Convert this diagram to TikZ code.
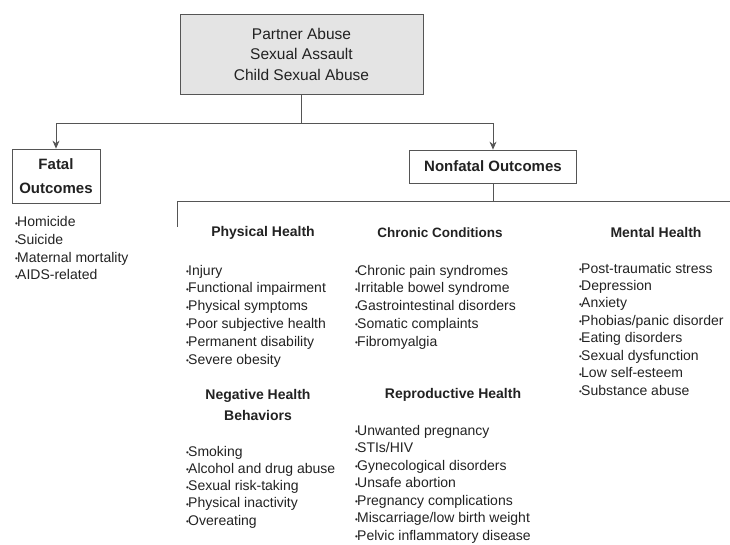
\documentclass[tikz,border=0pt]{standalone}
\usepackage{fontspec}
\setmainfont{Liberation Sans}
\usetikzlibrary{arrows.meta}

\definecolor{inkgray}{HTML}{222222}
\definecolor{linegray}{HTML}{555555}
\definecolor{boxfill}{HTML}{E4E4E4}

% little bullet that sits right against the first letter of a list entry
\newcommand\bul{\llap{\raisebox{0.5pt}{\fontsize{8}{8}\selectfont\textbullet}\kern-0.8pt}}

\tikzset{
  outbox/.style={draw=linegray,line width=0.8pt,fill=white,align=center,
    text=inkgray,font=\fontsize{15}{24}\selectfont\bfseries,inner sep=2pt},
  sourcebox/.style={outbox,fill=boxfill,font=\fontsize{15.5}{20.5}\selectfont},
  head/.style={align=center,text=inkgray,font=\fontsize{14}{21}\selectfont\bfseries},
  entry/.style={anchor=west,inner sep=0pt,text=inkgray,text height=9pt,text depth=3pt,
    font=\fontsize{14}{15}\selectfont,execute at begin node=\bul},
  link/.style={draw=linegray,line width=0.8pt}
}

\begin{document}
\begin{tikzpicture}[x=1pt,y=-1pt,>={Stealth[length=8pt,width=7pt]}]
\useasboundingbox (0,0) rectangle (730,545);

% forms of violence and the two kinds of outcome
\node[sourcebox,minimum width=243pt,minimum height=80pt] (abuse) at (301.5,54)
  {Partner Abuse\\Sexual Assault\\Child Sexual Abuse};
\node[outbox,minimum width=88pt,minimum height=54pt] (fatal) at (56,176) {Fatal\\Outcomes};
\node[outbox,minimum width=167pt,minimum height=33pt] (nonfatal) at (493,166.5) {Nonfatal Outcomes};

\coordinate (split) at (301.5,123);
\coordinate (branch) at (493,201);
\coordinate (rowL) at (177,201);
\coordinate (rowR) at (730,201);
\coordinate (drop) at (177,227);

\draw[link] (abuse) -- (split);
\draw[link,->] (split) -| (fatal);
\draw[link,->] (split) -| (nonfatal);
\draw[link] (nonfatal) -- (branch);
\draw[link] (rowR) -- (rowL) -- (drop);

% group headings
\node[head] (physH) at (263,233) {Physical Health};
\node[head,font=\fontsize{13.5}{21}\selectfont\bfseries] (chronH) at (440,233) {Chronic Conditions};
\node[head] (mentH) at (656,232) {Mental Health};
\node[head] (behavH) at (258,405) {Negative Health\\Behaviors};
\node[head] (reproH) at (453,395) {Reproductive Health};

% lists
\foreach \txt [count=\i] in {Homicide,Suicide,Maternal mortality,AIDS-related}
  \node[entry] (fat\i) at (17,{224+17.6*(\i-1)}) {\txt};
\foreach \txt [count=\i] in {Injury,Functional impairment,Physical symptoms,
    Poor subjective health,Permanent disability,Severe obesity}
  \node[entry] (phys\i) at (188,{272+17.8*(\i-1)}) {\txt};
\foreach \txt [count=\i] in {Chronic pain syndromes,Irritable bowel syndrome,
    Gastrointestinal disorders,Somatic complaints,Fibromyalgia}
  \node[entry] (chron\i) at (357,{272+17.8*(\i-1)}) {\txt};
\foreach \txt [count=\i] in {Post-traumatic stress,Depression,Anxiety,
    Phobias/panic disorder,Eating disorders,Sexual dysfunction,Low self-esteem,Substance abuse}
  \node[entry] (ment\i) at (581,{270+17.45*(\i-1)}) {\txt};
\foreach \txt [count=\i] in {Smoking,Alcohol and drug abuse,Sexual risk-taking,
    Physical inactivity,Overeating}
  \node[entry] (behav\i) at (188,{453+17.3*(\i-1)}) {\txt};
\foreach \txt [count=\i] in {Unwanted pregnancy,STIs/HIV,Gynecological disorders,
    Unsafe abortion,Pregnancy complications,Miscarriage/low birth weight,
    Pelvic inflammatory disease}
  \node[entry] (repro\i) at (357,{432+17.5*(\i-1)}) {\txt};
\end{tikzpicture}
\end{document}
